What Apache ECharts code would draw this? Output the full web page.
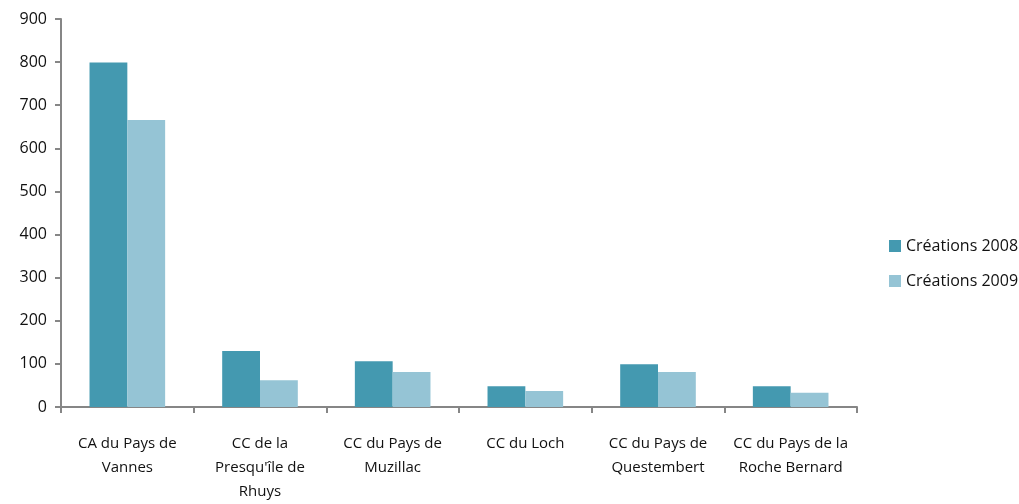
<!DOCTYPE html>
<html>
<head>
<meta charset="utf-8">
<script src="https://cdn.jsdelivr.net/npm/echarts@6/dist/echarts.min.js"></script>
<style>
  html, body { margin: 0; padding: 0; background: #fff; }
  #main { width: 1019px; height: 504px; }
</style>
</head>
<body>
<div id="main"></div>
<script>
const categories = [
  "CA du Pays de\nVannes",
  "CC de la\nPresqu'île de\nRhuys",
  "CC du Pays de\nMuzillac",
  "CC du Loch",
  "CC du Pays de\nQuestembert",
  "CC du Pays de la\nRoche Bernard"
];
const creations2008 = [799, 130, 106, 48, 99, 48];
const creations2009 = [666, 62, 81, 37, 81, 33];
const yTicks = { min: 0, max: 900, interval: 100 };

window.onload = function () {
  const myChart = echarts.init(document.getElementById("main"));
  const font = "'Open Sans', sans-serif";

  const options = {
    animation: false,
    textStyle: { fontFamily: font },
    grid: { left: 61, right: 162, top: 19, bottom: 95, containLabel: false },
    legend: {
      orient: "vertical",
      left: 884,
      top: 233,
      itemWidth: 12,
      itemHeight: 12,
      itemGap: 19,
      icon: "rect",
      textStyle: { fontSize: 16, color: "#111", fontFamily: font, letterSpacing: -0.7 },
      data: ["Créations 2008", "Créations 2009"]
    },
    xAxis: {
      type: "category",
      data: categories,
      axisLine: { lineStyle: { color: "#868686", width: 2 } },
      axisTick: { show: true, length: 6, lineStyle: { color: "#868686", width: 2 } },
      axisLabel: {
        color: "#111",
        fontSize: 15,
        margin: 25,
        lineHeight: 24,
        interval: 0,
        letterSpacing: -0.8
      }
    },
    yAxis: {
      type: "value",
      min: yTicks.min,
      max: yTicks.max,
      interval: yTicks.interval,
      splitLine: { show: false },
      axisLine: { show: true, lineStyle: { color: "#868686", width: 2 } },
      axisTick: { show: true, length: 6, lineStyle: { color: "#868686", width: 2 } },
      axisLabel: { color: "#111", fontSize: 16, margin: 14 }
    },
    series: [
      {
        name: "Créations 2008",
        type: "bar",
        data: creations2008,
        barGap: "0%",
        barCategoryGap: "43%",
        itemStyle: { color: "#4499b0" }
      },
      {
        name: "Créations 2009",
        type: "bar",
        data: creations2009,
        itemStyle: { color: "#95c4d5" }
      }
    ]
  };

  myChart.setOption(options);
};
</script>
</body>
</html>
